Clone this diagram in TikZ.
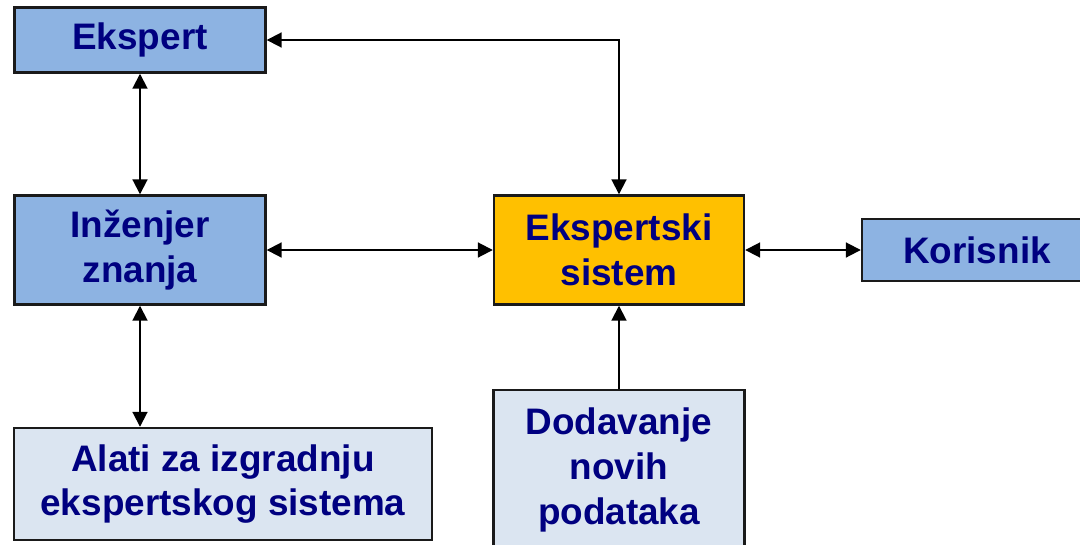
\documentclass[tikz,border=0pt]{standalone}
\usepackage{fontspec}
\setmainfont{Liberation Sans}
\usetikzlibrary{arrows.meta}
\begin{document}
\begin{tikzpicture}[x=0.02cm, y=-0.02cm,
    box/.style={draw=esBorder, line width=1.4pt, text=esText, align=center,
        font=\fontsize{21}{25.5}\selectfont\bfseries, inner sep=0pt},
    link/.style={{Triangle[length=8.5pt,width=8.5pt]}-{Triangle[length=8.5pt,width=8.5pt]}, line width=1.1pt},
    feed/.style={-{Triangle[length=8.5pt,width=8.5pt]}, line width=1.1pt}]
        % Farben
        \definecolor{esBlue}{HTML}{8DB3E2}
        \definecolor{esPale}{HTML}{DBE5F1}
        \definecolor{esGold}{HTML}{FFC000}
        \definecolor{esText}{HTML}{000080}
        \definecolor{esBorder}{HTML}{1A1A1A}

        \useasboundingbox (0,0) rectangle (1080,545);
        \clip (0,0) rectangle (1080,545);

        % Kaesten
        \node[box, fill=esBlue, minimum width=5.02cm, minimum height=1.3cm] (ekspert) at (140,40) {Ekspert};
        \node[box, fill=esBlue, minimum width=5.02cm, minimum height=2.18cm] (inzenjer) at (140,250) {Inženjer\\znanja};
        \node[box, fill=esPale, minimum width=8.36cm, minimum height=2.24cm] (alati) at (223,484) {Alati za izgradnju\\ekspertskog sistema};
        \node[box, fill=esGold, minimum width=5.0cm, minimum height=2.18cm] (sistem) at (619,250) {Ekspertski\\sistem};
        \node[box, fill=esBlue, minimum width=4.6cm, minimum height=1.24cm] (korisnik) at (977,250) {Korisnik};
        \node[box, fill=esPale, minimum width=5.02cm, minimum height=3.2cm] (dodavanje) at (619,470) {Dodavanje\\novih\\podataka};

        % Pfeile
        \draw[link] (ekspert) -- (inzenjer);
        \draw[link] (ekspert.east) -| (sistem.north);
        \draw[link] (inzenjer) -- (sistem);
        \draw[link] (sistem) -- (korisnik);
        \draw[link] (inzenjer.south) -- (inzenjer.south |- alati.north);
        \draw[feed] (dodavanje) -- (sistem);
\end{tikzpicture}
\end{document}
